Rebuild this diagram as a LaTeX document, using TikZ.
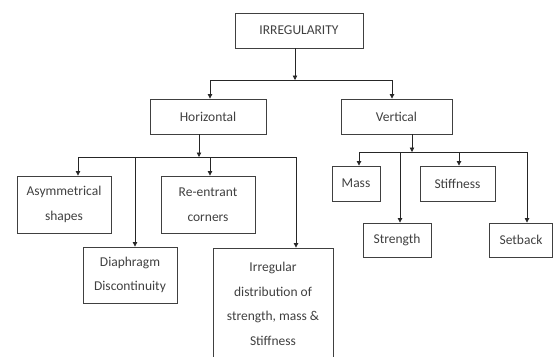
\documentclass[tikz,border=0pt]{standalone}
\usepackage{fontspec}
\setmainfont{Carlito}
\usetikzlibrary{arrows.meta}
\begin{document}
\begin{tikzpicture}[x=1pt,y=-1pt,
  box/.style={draw=black!75,line width=0.9pt,align=center,inner sep=0pt,text=black!75,
    font=\fontsize{13.5}{24.5}\selectfont},
  conn/.style={draw=black!85,line width=0.8pt},
  arr/.style={conn,-{Triangle[width=4.5pt,length=4.5pt]}}]
\useasboundingbox (0,0) rectangle (553,356);
\clip (0,0) rectangle (553,356);
\node[box,minimum width=128pt,minimum height=35pt] (irr) at (299,30.5) {IRREGULARITY};
\node[box,minimum width=116pt,minimum height=35pt] (hor) at (208,116.5) {Horizontal};
\node[box,minimum width=111pt,minimum height=35pt] (ver) at (396.5,116.5) {Vertical};
\node[box,minimum width=94pt,minimum height=57pt] (asym) at (64,204.5) {Asymmetrical\\shapes};
\node[box,minimum width=94pt,minimum height=57pt] (reen) at (208,204.5) {Re-entrant\\corners};
\node[box,minimum width=94pt,minimum height=56pt] (diap) at (130,275) {Diaphragm\\Discontinuity};
\node[box,minimum width=120pt,minimum height=112pt] (irrg) at (273,304) {Irregular\\distribution of\\strength, mass \&\\Stiffness};
\node[box,minimum width=48pt,minimum height=35pt] (mass) at (356,183.5) {Mass};
\node[box,minimum width=75pt,minimum height=35pt] (stiff) at (457.5,183.5) {Stiffness};
\node[box,minimum width=68pt,minimum height=34pt] (stren) at (397,240) {Strength};
\node[box,minimum width=63pt,minimum height=34pt] (setb) at (521,240) {Setback};
% level 1
\coordinate (j1) at (295,80);
\coordinate (l1a) at (210,80);
\coordinate (l1b) at (392,80);
\draw[arr] (j1 |- irr.south) -- (j1);
\draw[conn] (l1a) -- (l1b);
\draw[arr] (l1a) -- (l1a |- hor.north);
\draw[arr] (l1b) -- (l1b |- ver.north);
% horizontal children
\coordinate (j2) at (199,157);
\coordinate (h1) at (78,157);
\coordinate (h2) at (135,157);
\coordinate (h3) at (210,157);
\coordinate (h4) at (296,157);
\draw[arr] (j2 |- hor.south) -- (j2);
\draw[conn] (h1) -- (h4);
\draw[arr] (h1) -- (h1 |- asym.north);
\draw[arr] (h2) -- (h2 |- diap.north);
\draw[arr] (h3) -- (h3 |- reen.north);
\draw[arr] (h4) -- (h4 |- irrg.north);
% vertical children
\coordinate (j3) at (412,152);
\coordinate (v1) at (359,152);
\coordinate (v2) at (400,152);
\coordinate (v3) at (459,152);
\coordinate (v4) at (527,152);
\draw[arr] (j3 |- ver.south) -- (j3);
\draw[conn] (v1) -- (v4);
\draw[arr] (v1) -- (v1 |- mass.north);
\draw[arr] (v2) -- (v2 |- stren.north);
\draw[arr] (v3) -- (v3 |- stiff.north);
\draw[arr] (v4) -- (v4 |- setb.north);
\end{tikzpicture}
\end{document}
